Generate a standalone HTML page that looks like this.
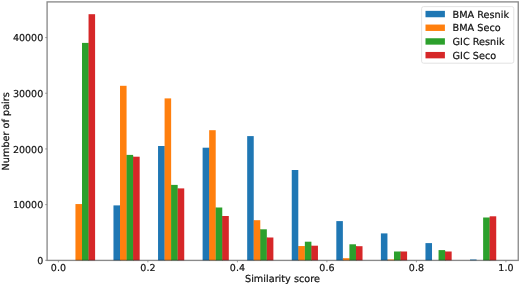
<!DOCTYPE html>
<html><head><meta charset="utf-8"><title>Similarity score histogram</title>
<style>
html,body{margin:0;padding:0;background:#fff;}
body{width:520px;height:285px;overflow:hidden;}
svg{display:block;}
text{text-rendering:geometricPrecision;font-family:"DejaVu Sans","Liberation Sans",sans-serif;font-size:9.7px;fill:#111;stroke:#111;stroke-width:0.2px;}
text.tk{font-size:9.5px;}
</style></head><body>
<svg width="520" height="285" viewBox="0 0 520 285">
<rect x="0" y="0" width="520" height="285" fill="#ffffff"/>

<g shape-rendering="auto">
<rect x="75.45" y="204.05" width="6.55" height="56.25" fill="#ff7f0e"/>
<rect x="81.90" y="204.05" width="0.7" height="56.25" fill="#ff7f0e"/>
<rect x="82.00" y="42.90" width="6.55" height="217.40" fill="#2ca02c"/>
<rect x="88.45" y="42.90" width="0.7" height="217.40" fill="#2ca02c"/>
<rect x="88.55" y="14.20" width="6.55" height="246.10" fill="#d62728"/>
<rect x="113.47" y="205.40" width="6.55" height="54.90" fill="#1f77b4"/>
<rect x="119.92" y="205.40" width="0.7" height="54.90" fill="#1f77b4"/>
<rect x="120.02" y="85.80" width="6.55" height="174.50" fill="#ff7f0e"/>
<rect x="126.47" y="154.90" width="0.7" height="105.40" fill="#ff7f0e"/>
<rect x="126.57" y="154.90" width="6.55" height="105.40" fill="#2ca02c"/>
<rect x="133.02" y="156.70" width="0.7" height="103.60" fill="#2ca02c"/>
<rect x="133.12" y="156.70" width="6.55" height="103.60" fill="#d62728"/>
<rect x="158.04" y="146.00" width="6.55" height="114.30" fill="#1f77b4"/>
<rect x="164.49" y="146.00" width="0.7" height="114.30" fill="#1f77b4"/>
<rect x="164.59" y="98.40" width="6.55" height="161.90" fill="#ff7f0e"/>
<rect x="171.04" y="184.90" width="0.7" height="75.40" fill="#ff7f0e"/>
<rect x="171.14" y="184.90" width="6.55" height="75.40" fill="#2ca02c"/>
<rect x="177.59" y="188.40" width="0.7" height="71.90" fill="#2ca02c"/>
<rect x="177.69" y="188.40" width="6.55" height="71.90" fill="#d62728"/>
<rect x="202.61" y="147.70" width="6.55" height="112.60" fill="#1f77b4"/>
<rect x="209.06" y="147.70" width="0.7" height="112.60" fill="#1f77b4"/>
<rect x="209.16" y="130.20" width="6.55" height="130.10" fill="#ff7f0e"/>
<rect x="215.61" y="207.50" width="0.7" height="52.80" fill="#ff7f0e"/>
<rect x="215.71" y="207.50" width="6.55" height="52.80" fill="#2ca02c"/>
<rect x="222.16" y="216.00" width="0.7" height="44.30" fill="#2ca02c"/>
<rect x="222.26" y="216.00" width="6.55" height="44.30" fill="#d62728"/>
<rect x="247.18" y="136.10" width="6.55" height="124.20" fill="#1f77b4"/>
<rect x="253.63" y="220.20" width="0.7" height="40.10" fill="#1f77b4"/>
<rect x="253.73" y="220.20" width="6.55" height="40.10" fill="#ff7f0e"/>
<rect x="260.18" y="229.30" width="0.7" height="31.00" fill="#ff7f0e"/>
<rect x="260.28" y="229.30" width="6.55" height="31.00" fill="#2ca02c"/>
<rect x="266.73" y="237.50" width="0.7" height="22.80" fill="#2ca02c"/>
<rect x="266.83" y="237.50" width="6.55" height="22.80" fill="#d62728"/>
<rect x="291.75" y="170.00" width="6.55" height="90.30" fill="#1f77b4"/>
<rect x="298.20" y="246.05" width="0.7" height="14.25" fill="#1f77b4"/>
<rect x="298.30" y="246.05" width="6.55" height="14.25" fill="#ff7f0e"/>
<rect x="304.75" y="246.05" width="0.7" height="14.25" fill="#ff7f0e"/>
<rect x="304.85" y="241.70" width="6.55" height="18.60" fill="#2ca02c"/>
<rect x="311.30" y="245.70" width="0.7" height="14.60" fill="#2ca02c"/>
<rect x="311.40" y="245.70" width="6.55" height="14.60" fill="#d62728"/>
<rect x="336.32" y="221.10" width="6.55" height="39.20" fill="#1f77b4"/>
<rect x="342.77" y="258.20" width="0.7" height="2.10" fill="#1f77b4"/>
<rect x="342.87" y="258.20" width="6.55" height="2.10" fill="#ff7f0e"/>
<rect x="349.32" y="258.20" width="0.7" height="2.10" fill="#ff7f0e"/>
<rect x="349.42" y="244.30" width="6.55" height="16.00" fill="#2ca02c"/>
<rect x="355.87" y="246.20" width="0.7" height="14.10" fill="#2ca02c"/>
<rect x="355.97" y="246.20" width="6.55" height="14.10" fill="#d62728"/>
<rect x="380.89" y="233.40" width="6.55" height="26.90" fill="#1f77b4"/>
<rect x="387.34" y="259.50" width="0.7" height="0.80" fill="#1f77b4"/>
<rect x="387.44" y="259.50" width="6.55" height="0.80" fill="#ff7f0e"/>
<rect x="393.89" y="259.50" width="0.7" height="0.80" fill="#ff7f0e"/>
<rect x="393.99" y="251.50" width="6.55" height="8.80" fill="#2ca02c"/>
<rect x="400.44" y="251.50" width="0.7" height="8.80" fill="#2ca02c"/>
<rect x="400.54" y="251.50" width="6.55" height="8.80" fill="#d62728"/>
<rect x="425.46" y="243.10" width="6.55" height="17.20" fill="#1f77b4"/>
<rect x="438.56" y="250.10" width="6.55" height="10.20" fill="#2ca02c"/>
<rect x="445.01" y="251.50" width="0.7" height="8.80" fill="#2ca02c"/>
<rect x="445.11" y="251.50" width="6.55" height="8.80" fill="#d62728"/>
<rect x="470.03" y="259.50" width="6.55" height="0.80" fill="#1f77b4"/>
<rect x="483.13" y="217.50" width="6.55" height="42.80" fill="#2ca02c"/>
<rect x="489.58" y="217.50" width="0.7" height="42.80" fill="#2ca02c"/>
<rect x="489.68" y="216.30" width="6.55" height="44.00" fill="#d62728"/>
</g>
<g stroke="#000000" stroke-width="1.35" stroke-opacity="0.46" fill="none">
<rect x="47.1" y="1.9" width="471.15" height="258.50"/>
</g>
<g stroke="#777" stroke-width="0.7">
<line x1="58.40" y1="260.4" x2="58.40" y2="262.30"/>
<line x1="147.90" y1="260.4" x2="147.90" y2="262.30"/>
<line x1="237.40" y1="260.4" x2="237.40" y2="262.30"/>
<line x1="326.90" y1="260.4" x2="326.90" y2="262.30"/>
<line x1="416.40" y1="260.4" x2="416.40" y2="262.30"/>
<line x1="505.90" y1="260.4" x2="505.90" y2="262.30"/>
<line x1="45.20" y1="260.30" x2="47.1" y2="260.30"/>
<line x1="45.20" y1="204.62" x2="47.1" y2="204.62"/>
<line x1="45.20" y1="148.94" x2="47.1" y2="148.94"/>
<line x1="45.20" y1="93.26" x2="47.1" y2="93.26"/>
<line x1="45.20" y1="37.58" x2="47.1" y2="37.58"/>
</g>
<text x="58.40" y="270.6" text-anchor="middle" class="tk">0.0</text>
<text x="147.90" y="270.6" text-anchor="middle" class="tk">0.2</text>
<text x="237.40" y="270.6" text-anchor="middle" class="tk">0.4</text>
<text x="326.90" y="270.6" text-anchor="middle" class="tk">0.6</text>
<text x="416.40" y="270.6" text-anchor="middle" class="tk">0.8</text>
<text x="505.90" y="270.6" text-anchor="middle" class="tk">1.0</text>
<text x="43.2" y="264.05" text-anchor="end" class="tk">0</text>
<text x="43.2" y="208.37" text-anchor="end" class="tk">10000</text>
<text x="43.2" y="152.69" text-anchor="end" class="tk">20000</text>
<text x="43.2" y="97.01" text-anchor="end" class="tk">30000</text>
<text x="43.2" y="41.33" text-anchor="end" class="tk">40000</text>
<text x="282.5" y="282.0" text-anchor="middle">Similarity score</text>
<text transform="translate(9.0,131.3) rotate(-90)" text-anchor="middle">Number of pairs</text>
<rect x="421.6" y="6.6" width="92.2" height="56.6" rx="2" ry="2" fill="#ffffff" fill-opacity="0.8" stroke="#e0e0e0" stroke-width="0.9"/>
<rect x="425.5" y="10.85" width="19.4" height="6.4" fill="#1f77b4"/>
<text x="452.6" y="17.55">BMA Resnik</text>
<rect x="425.5" y="24.55" width="19.4" height="6.4" fill="#ff7f0e"/>
<text x="452.6" y="31.25">BMA Seco</text>
<rect x="425.5" y="38.25" width="19.4" height="6.4" fill="#2ca02c"/>
<text x="452.6" y="44.95">GIC Resnik</text>
<rect x="425.5" y="51.95" width="19.4" height="6.4" fill="#d62728"/>
<text x="452.6" y="58.65">GIC Seco</text>
</svg></body></html>
